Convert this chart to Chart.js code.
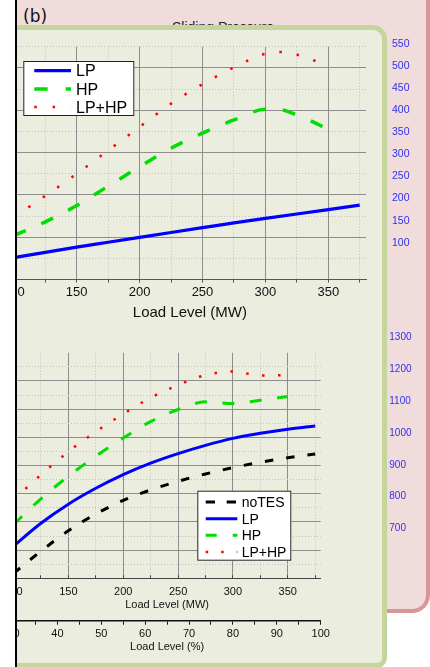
<!DOCTYPE html>
<html><head><meta charset="utf-8">
<script src="https://cdn.jsdelivr.net/npm/chart.js@4.4.1/dist/chart.umd.min.js"></script>
<style>
html,body{margin:0;padding:0;background:#fff;}
body{width:430px;height:667px;position:relative;overflow:hidden;font-family:"Liberation Sans",Arial,sans-serif;}
#pink{position:absolute;left:17px;top:-20px;width:409px;height:629px;background:#f1dcdc;border-right:4px solid #d99697;border-bottom:4px solid #d99697;border-bottom-right-radius:18px;z-index:1;}
#lbl{position:absolute;left:23px;top:8px;font-family:"DejaVu Sans",sans-serif;font-size:17px;line-height:17px;color:#111;z-index:2;}
#ttl{position:absolute;left:172px;top:19px;font-size:14px;line-height:16px;color:#222;z-index:2;white-space:nowrap;}
#green{position:absolute;left:0;top:25px;width:377px;height:633px;background:#ebeedf;border:5px solid #c5d69d;border-radius:0 14px 10px 0;z-index:3;}
canvas{position:absolute;left:0;z-index:4;}
#c1{top:0;}
#c2{top:330px;}
#white{position:absolute;left:0;top:0;width:15px;height:667px;background:#fff;z-index:9;}
#black{position:absolute;left:15px;top:0;width:2px;height:667px;background:#000;z-index:9;}
</style>
</head>
<body>
<div id="pink"></div>
<div id="lbl">(b)</div>
<div id="ttl">Sliding Pressure</div>
<div id="green"></div>
<canvas id="c1" width="430" height="330"></canvas>
<canvas id="c2" width="430" height="337"></canvas>
<div id="white"></div>
<div id="black"></div>
<script>
// ---------- data ----------
const mwTicks = [100,125,150,175,200,225,250,275,300,325,350,375];
const pctTicks = [30,35,40,45,50,55,60,65,70,75,80,85,90,95,100];

// upper panel (right-axis values)
const topLoad = [100,125,150,175,200,225,250,275,300,325,350,375];
const topLP = [66,78,90,101,112,123,134,145,155,165,175,185];
const topLoadTES = [100,125,150,175,200,225,250,275,300,312.5,325,337.5,350];
const topHP = [116,147,184,228,272,314,348,378,402,401,389,374,356];
const topLPHP = [158,206,256,309,362,415,459,497,528,532,526,514,500];
const topRightTicks = [100,150,200,250,300,350,400,450,500,550];
const topGridTicks = [0,50,100,150,200,250,300,350,400,450,500,550];

// lower panel (right-axis values)
const lowLoad = [100,125,150,175,200,225,250,275,300,325,350,375];
const lowNoTES = [558,628,692,745,788,821,848,871,891,908,922,934];
const lowLP = [644,716,776,826,869,905,935,961,983,999,1012,1022];
const lowLoadTES = [100,125,150,175,200,225,250,275,300,325,350];
const lowHP = [712,793,864,927,984,1036,1074,1098,1093,1103,1115];
const lowLPHP = [790,868,941,1004,1060,1111,1151,1182,1194,1181,1182];
const lowRightTicks = [700,800,900,1000,1100,1200,1300];
const lowGridTicks = [0,0.5,1,1.5,2,2.5,3,3.5,4,4.5,5,5.5,6,6.5,7,7.5,8];

// ---------- helpers ----------
const FONT = '"Liberation Sans", Arial, sans-serif';
const pts = (xs, ys) => xs.map((x, i) => ({x: x, y: ys[i]}));
const setTicks = arr => s => { s.ticks = arr.map(v => ({value: v})); };
const fitFix = (prop, val) => s => {
  s[prop] = val;
  s.paddingTop = 0; s.paddingBottom = 0; s.paddingLeft = 0; s.paddingRight = 0;
};
const MAJOR = '#8d8d8d', MINOR = '#c2c2c2';

const legendPlugin = {
  id: 'customLegend',
  afterDatasetsDraw(chart, args, o) {
    if (!o || !o.items) return;
    const ctx = chart.ctx;
    ctx.save();
    ctx.fillStyle = '#fff';
    ctx.fillRect(o.x, o.y, o.w, o.h);
    ctx.strokeStyle = '#222';
    ctx.lineWidth = 1;
    ctx.strokeRect(o.x + 0.5, o.y + 0.5, o.w - 1, o.h - 1);
    o.items.forEach((it, i) => {
      const ds = chart.data.datasets[i];
      const yy = o.firstY + i * o.rowH;
      ctx.beginPath();
      ctx.setLineDash(it.dash);
      ctx.lineCap = 'butt';
      ctx.strokeStyle = ds.borderColor;
      ctx.lineWidth = ds.borderWidth;
      ctx.moveTo(o.x1, yy);
      ctx.lineTo(o.x2, yy);
      ctx.stroke();
      ctx.setLineDash([]);
      ctx.fillStyle = '#000';
      ctx.font = o.size + 'px ' + FONT;
      ctx.textBaseline = 'alphabetic';
      ctx.fillText(ds.label, o.tx, yy + o.size * 0.36);
    });
    ctx.restore();
  }
};

function gridAxis(min, max, ticks, majorFn, hideFn) {
  return {
    type: 'linear', position: 'left', min: min, max: max,
    afterBuildTicks: setTicks(ticks),
    afterFit: fitFix('width', 0),
    ticks: {display: false},
    grid: {
      drawTicks: false, lineWidth: 1,
      color: c => (c.tick && hideFn(c.tick.value)) ? 'rgba(0,0,0,0)' : (c.tick && majorFn(c.tick.value) ? MAJOR : MINOR)
    },
    border: {display: false, dash: c => (c.tick && !majorFn(c.tick.value)) ? [1, 2] : []}
  };
}

// ---------- upper chart ----------
new Chart(document.getElementById('c1'), {
  type: 'line',
  data: {datasets: [
    {label: 'LP', data: pts(topLoad, topLP), borderColor: '#0000ff', borderWidth: 3.2, pointRadius: 0, cubicInterpolationMode: 'monotone', yAxisID: 'y'},
    {label: 'HP', data: pts(topLoadTES, topHP), borderColor: '#00dd00', borderWidth: 3.5, borderDash: [13, 17], pointRadius: 0, cubicInterpolationMode: 'monotone', yAxisID: 'y'},
    {label: 'LP+HP', data: pts(topLoadTES, topLPHP), borderColor: '#ff0000', borderWidth: 2.5, borderDash: [2.5, 15], pointRadius: 0, cubicInterpolationMode: 'monotone', yAxisID: 'y'}
  ]},
  options: {
    responsive: false, animation: false, events: [],
    layout: {padding: {left: 13.8, top: 46.7, right: 0, bottom: 0.4}},
    plugins: {
      legend: {display: false}, tooltip: {enabled: false},
      customLegend: {x: 23.3, y: 61, w: 111, h: 55, firstY: 70.7, rowH: 18.2, x1: 34.3, x2: 71, tx: 76, size: 16,
        items: [{dash: []}, {dash: [13.4, 18]}, {dash: [2.5, 15.8]}]}
    },
    scales: {
      x: {
        type: 'linear', position: 'bottom', min: 100, max: 380,
        afterBuildTicks: setTicks(mwTicks),
        afterFit: fitFix('height', 50),
        ticks: {autoSkip: false, maxRotation: 0, padding: 2.4, color: '#111', font: {family: FONT, size: 13},
          callback: v => (v % 50 === 0 ? String(v) : '')},
        grid: {lineWidth: 1, tickLength: 3, tickColor: '#555',
          color: c => (c.tick && c.tick.value % 50 === 0) ? MAJOR : MINOR},
        border: {display: true, color: '#555', width: 1,
          dash: c => (c.tick && c.tick.value % 50 !== 0) ? [1, 2] : []},
        title: {display: true, text: 'Load Level (MW)', color: '#111', font: {family: FONT, size: 15}, padding: {top: 0, bottom: 8}}
      },
      yg: gridAxis(0, 550, topGridTicks, v => v % 100 === 0, v => false),
      y: {
        type: 'linear', position: 'right', min: 16.4, max: 543.9,
        afterBuildTicks: setTicks(topRightTicks),
        afterFit: fitFix('width', 64),
        ticks: {autoSkip: false, padding: 26, color: '#3030ee', font: {family: FONT, size: 10.5}, callback: v => String(v)},
        grid: {drawOnChartArea: false, drawTicks: false},
        border: {display: false}
      }
    }
  },
  plugins: [legendPlugin]
});

// ---------- lower chart ----------
new Chart(document.getElementById('c2'), {
  type: 'line',
  data: {datasets: [
    {label: 'noTES', data: pts(lowLoad, lowNoTES), borderColor: '#000000', borderWidth: 3, borderDash: [8.5, 13], pointRadius: 0, cubicInterpolationMode: 'monotone', xAxisID: 'x', yAxisID: 'y'},
    {label: 'LP', data: pts(lowLoad, lowLP), borderColor: '#0000ff', borderWidth: 3, pointRadius: 0, cubicInterpolationMode: 'monotone', xAxisID: 'x', yAxisID: 'y'},
    {label: 'HP', data: pts(lowLoadTES, lowHP), borderColor: '#00dd00', borderWidth: 3, borderDash: [12, 15.5], pointRadius: 0, cubicInterpolationMode: 'monotone', xAxisID: 'x', yAxisID: 'y'},
    {label: 'LP+HP', data: pts(lowLoadTES, lowLPHP), borderColor: '#ff0000', borderWidth: 2.5, borderDash: [2.5, 13.5], pointRadius: 0, cubicInterpolationMode: 'monotone', xAxisID: 'x', yAxisID: 'y'}
  ]},
  options: {
    responsive: false, animation: false, events: [],
    layout: {padding: {left: 13.5, top: 22.7, right: 0, bottom: 0}},
    plugins: {
      legend: {display: false}, tooltip: {enabled: false},
      customLegend: {x: 197.3, y: 160.7, w: 94, h: 70, firstY: 172, rowH: 16.67, x1: 205.7, x2: 237.3, tx: 241.7, size: 14,
        items: [{dash: [9.3, 11.7]}, {dash: []}, {dash: [11, 16]}, {dash: [2.5, 13]}]}
    },
    scales: {
      x: {
        type: 'linear', position: 'bottom', weight: 0, min: 100, max: 380,
        afterBuildTicks: setTicks(mwTicks),
        afterFit: fitFix('height', 42.4),
        ticks: {autoSkip: false, maxRotation: 0, padding: 9.8, color: '#111', font: {family: FONT, size: 11},
          callback: v => (v % 50 === 0 ? String(v) : '')},
        grid: {lineWidth: 1, tickLength: -3, tickColor: '#444',
          color: c => (c.tick && c.tick.value % 50 === 0) ? MAJOR : MINOR},
        border: {display: true, color: '#444', width: 1,
          dash: c => (c.tick && c.tick.value % 50 !== 0) ? [1, 2] : []},
        title: {display: true, text: 'Load Level (MW)', color: '#111', font: {family: FONT, size: 11}, padding: {top: 0, bottom: 9.1}}
      },
      x2: {
        type: 'linear', position: 'bottom', weight: 1, min: 30, max: 100,
        afterBuildTicks: setTicks(pctTicks),
        afterFit: fitFix('height', 46.3),
        ticks: {autoSkip: false, maxRotation: 0, padding: 2.7, color: '#111', font: {family: FONT, size: 11},
          callback: v => (v % 10 === 0 ? String(v) : '')},
        grid: {drawOnChartArea: false, tickLength: 4, tickColor: '#111', tickWidth: 1},
        border: {display: true, color: '#111', width: 1.5},
        title: {display: true, text: 'Load Level (%)', color: '#111', font: {family: FONT, size: 11}, padding: {top: 0, bottom: 13.1}}
      },
      yg: gridAxis(0, 8, lowGridTicks, v => v % 1 === 0, v => v === 8),
      y: {
        type: 'linear', position: 'right', min: 542.6, max: 1252.8,
        afterBuildTicks: setTicks(lowRightTicks),
        afterFit: fitFix('width', 109.3),
        ticks: {autoSkip: false, padding: 68.6, color: '#3030ee', font: {family: FONT, size: 10}, callback: v => String(v)},
        grid: {drawOnChartArea: false, drawTicks: false},
        border: {display: false}
      }
    }
  },
  plugins: [legendPlugin]
});
</script>
</body></html>
